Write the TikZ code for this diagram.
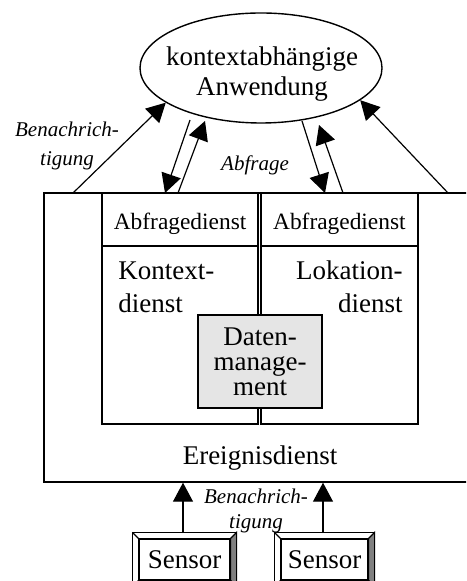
\documentclass[tikz,border=0pt]{standalone}
\usepackage{fontspec}
\setmainfont{Liberation Serif}
\usepackage{tikz}
\usetikzlibrary{arrows.meta,calc,positioning,shapes.geometric}

\begin{document}
\begin{tikzpicture}[x=0.5pt,y=-0.5pt,
                box/.style={draw, line width=0.9pt, inner sep=0pt},
                txt/.style={font=\fontsize{13.5}{16.5}\selectfont, inner sep=0pt},
                lbl/.style={font=\fontsize{10.5}{12.5}\selectfont\itshape, align=center, inner sep=0pt},
                pfeil/.style={line width=0.6pt, -{Triangle[length=9.5pt,width=10pt]}}]
                \useasboundingbox (0,0) rectangle (466,581);
                \clip (0,0) rectangle (466,581);
                \node[draw, ellipse, line width=0.7pt, minimum width=121pt, minimum height=55pt] (app) at (261,68) {};
                \node[txt, align=center, font=\fontsize{13.5}{15}\selectfont] (apptext) at (262,74) {kontextabhängige\\Anwendung};
                \node[box, line width=0.7pt, minimum width=223pt, minimum height=144.5pt] (ereignis) at (267,337.5) {};
                \node[box, minimum width=78.1pt, minimum height=115.5pt] (kontext) at (180.1,308.5) {};
                \node[box, minimum width=78.6pt, minimum height=115.5pt] (lokation) at (339.4,308.5) {};
                \node[box, minimum width=78.1pt, minimum height=26.5pt, font=\fontsize{11.7}{14}\selectfont, text height=10.5pt, text depth=0pt] (abfrL) at (180.1,219.5) {Abfragedienst};
                \node[box, minimum width=78.6pt, minimum height=26.5pt, font=\fontsize{11.7}{14}\selectfont, text height=10.5pt, text depth=0pt] (abfrR) at (339.4,219.5) {Abfragedienst};
                \node[txt, anchor=base west, align=left] (kontexttext) at (118,313) {Kontext-\\dienst};
                \node[txt, anchor=base east, align=right] (lokationtext) at (403,313) {Lokation-\\dienst};
                \node[box, fill=black!10, minimum width=62pt, minimum height=46.5pt, align=center, font=\fontsize{13.5}{12.5}\selectfont] (daten) at (260,361.5) {Daten-\\manage-\\ment};
                \node[txt] (ereignistext) at (260,458) {Ereignisdienst};
                \node[box, line width=0.6pt, minimum width=45.5pt, minimum height=20.5pt, font=\fontsize{13.5}{15}\selectfont] (sensorA) at (184.5,559.5) {Sensor};
                \node[box, line width=0.6pt, minimum width=43.5pt, minimum height=20.5pt, font=\fontsize{13.5}{15}\selectfont] (sensorB) at (324.5,559.5) {Sensor};
                \foreach \s in {sensorA,sensorB} {
                    \draw[line width=0.6pt] ($(\s.north west)+(-6,-6)$) rectangle ($(\s.south east)+(6,6)$);
                    \draw[line width=0.6pt] (\s.north west) -- ($(\s.north west)+(-6,-6)$);
                    \filldraw[line width=0.6pt, fill=black!50] (\s.north east) -- ($(\s.north east)+(6,-6)$) -- ($(\s.south east)+(6,6)$) -- (\s.south east) -- cycle;
                    \filldraw[line width=0.6pt, fill=black!50] (\s.south west) -- ($(\s.south west)+(-6,6)$) -- ($(\s.south east)+(6,6)$) -- (\s.south east) -- cycle;
                }
                \coordinate (benA) at (73,193);
                \coordinate (benB) at (448,193);
                \coordinate (abA) at (190,120);
                \coordinate (abAe) at (165,193);
                \coordinate (abB) at (178,193);
                \coordinate (abBe) at (205,121);
                \coordinate (abC) at (302,121);
                \coordinate (abCe) at (325,193);
                \coordinate (abD) at (343,193);
                \coordinate (abDe) at (319,125);
                \coordinate (senA) at (183,533);
                \coordinate (senB) at (323,533);
                \draw[pfeil] (benA) -- (app.200);
                \draw[pfeil] (benB) -- (app.342);
                \draw[pfeil] (abA) -- (abAe);
                \draw[pfeil] (abB) -- (abBe);
                \draw[pfeil] (abC) -- (abCe);
                \draw[pfeil] (abD) -- (abDe);
                \draw[pfeil] (senA) -- (senA |- ereignis.south);
                \draw[pfeil] (senB) -- (senB |- ereignis.south);
                \node[lbl, font=\fontsize{10.5}{14.5}\selectfont\itshape] (benLtext) at (67,146) {Benachrich-\\tigung};
                \node[lbl] (abfragetext) at (255,165.5) {Abfrage};
                \node[lbl] (benUtext) at (256,510.5) {Benachrich-\\tigung};
            \end{tikzpicture}
\end{document}
